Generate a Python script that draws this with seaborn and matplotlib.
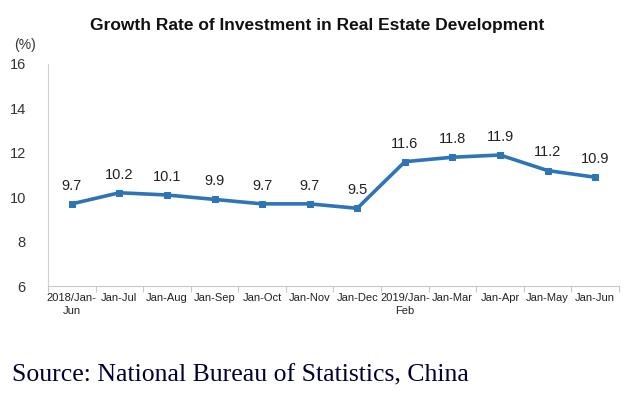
import matplotlib
matplotlib.use("Agg")
import matplotlib.pyplot as plt
import seaborn as sns
import pandas as pd
import numpy as np
from matplotlib.ticker import FixedLocator

periods = ["2018/Jan-\nJun", "Jan-Jul", "Jan-Aug", "Jan-Sep", "Jan-Oct", "Jan-Nov",
           "Jan-Dec", "2019/Jan-\nFeb", "Jan-Mar", "Jan-Apr", "Jan-May", "Jan-Jun"]
growth = [9.7, 10.2, 10.1, 9.9, 9.7, 9.7, 9.5, 11.6, 11.8, 11.9, 11.2, 10.9]
yticks = [6, 8, 10, 12, 14, 16]

sns.set_theme(style="white")
plt.rcParams["font.family"] = ["Liberation Sans", "DejaVu Sans"]

df = pd.DataFrame({"period": periods, "growth": growth})
df["pos"] = np.arange(len(periods))

fig = plt.figure(figsize=(6.39, 3.99), dpi=100)
ax = fig.add_axes([0.0751, 0.2832, 0.8936, 0.5564])

blue = "#2E75B6"
sns.lineplot(data=df, x="pos", y="growth", ax=ax, color=blue, linewidth=2.6,
             marker="s", markersize=5, markeredgecolor=blue, sort=False)

for x, y in zip(df["pos"], df["growth"]):
    ax.annotate(f"{y:.1f}", (x, y), xytext=(0, 8), textcoords="offset points",
                ha="center", va="bottom", fontsize=10.5, color="#222222")

ax.set_xlim(-0.5, len(periods) - 0.5)
ax.set_ylim(6, 16)
ax.set_yticks(yticks)
ax.set_yticklabels([str(t) for t in yticks], fontsize=10.5, color="#333333")
ax.set_xticks(df["pos"])
ax.set_xticklabels(periods, fontsize=8, color="#222222", linespacing=1.35,
                   family=["Liberation Sans Narrow", "Liberation Sans", "DejaVu Sans"])
ax.xaxis.set_minor_locator(FixedLocator(np.arange(-0.5, len(periods), 1.0)))
ax.tick_params(axis="x", which="major", length=0, pad=5)
ax.tick_params(axis="x", which="minor", length=4, width=0.8, color="#C8C8C8", direction="out", bottom=True)
ax.tick_params(axis="y", length=0, pad=16)
ax.set_xlabel("")
ax.set_ylabel("")

for s in ["top", "right"]:
    ax.spines[s].set_visible(False)
ax.spines["left"].set_color("#D0D0D0")
ax.spines["bottom"].set_color("#C8C8C8")
ax.spines["left"].set_linewidth(0.8)
ax.spines["bottom"].set_linewidth(0.8)

fig.text(0.497, 0.936, "Growth Rate of Investment in Real Estate Development",
         ha="center", va="center", fontsize=12.5, fontweight="bold", color="#111111")
fig.text(0.022, 0.888, "(%)", ha="left", va="center", fontsize=10, color="#333333")
fig.text(0.018, 0.058, "Source: National Bureau of Statistics, China", ha="left", va="center",
         fontsize=18.5, family=["Liberation Serif", "DejaVu Serif"], color="#000033")

fig.savefig("out.png", dpi=100, facecolor="white")
